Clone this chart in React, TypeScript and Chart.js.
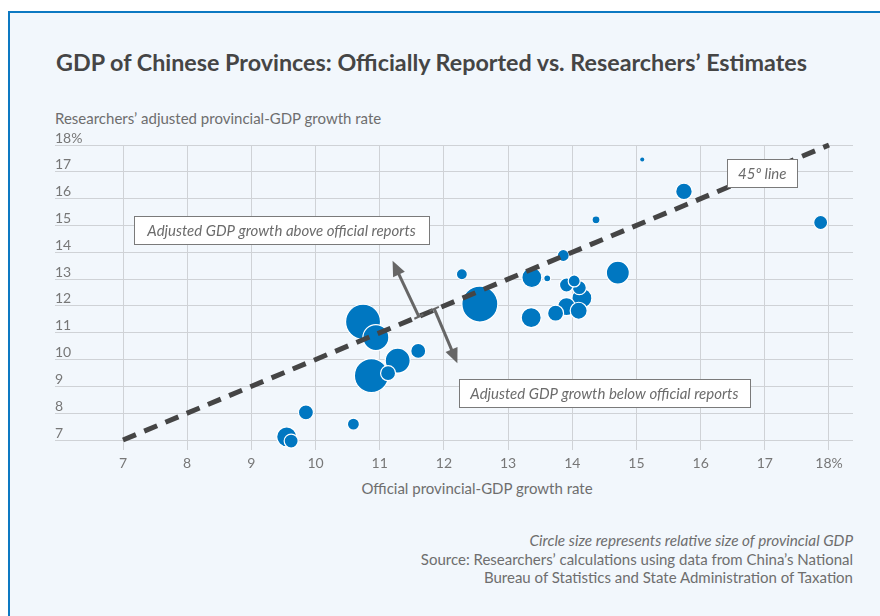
import React, { useEffect, useRef } from "react";
import { Chart, registerables } from "chart.js";

Chart.register(...registerables);

// Official (x) vs researchers' adjusted (y) provincial GDP growth, %; size = relative provincial GDP
const officialGrowth = [12.56, 10.74, 10.87, 14.71, 13.37, 13.36, 14.15, 11.28, 10.94, 9.55, 13.91, 15.74, 14.10, 13.74, 11.13, 14.11, 13.91, 9.85, 11.60, 14.03, 17.87, 9.62, 13.86, 10.59, 12.28, 14.37, 13.61, 15.09];
const adjustedGrowth = [12.07, 11.41, 9.40, 13.24, 13.06, 11.56, 12.29, 9.96, 10.82, 7.12, 11.97, 16.27, 11.82, 11.73, 9.49, 12.68, 12.78, 8.03, 10.32, 12.93, 15.11, 6.96, 13.88, 7.59, 13.18, 15.21, 13.03, 17.46];
const gdpSize = [18, 17.5, 17, 11.5, 10, 10, 10, 12.5, 13, 10, 9, 8.3, 8.5, 8, 7.5, 7, 7, 7.5, 7.5, 6, 7, 7, 6, 6, 5.5, 4, 3.5, 2];

const lineEnds = [7, 18];
const xTickValues = [7, 8, 9, 10, 11, 12, 13, 14, 15, 16, 17, 18];
const yTickValues = [7, 8, 9, 10, 11, 12, 13, 14, 15, 16, 17, 18];

const labelAbove = "Adjusted GDP growth above official reports";
const labelBelow = "Adjusted GDP growth below official reports";
const label45 = "45\u00BA line";

const FONT = "Lato, 'Noto Sans', sans-serif";
const BLUE = "#0077c1";

const annotationPlugin = {
  id: "annotations",
  afterDraw(chart: any) {
    const ctx = chart.ctx;
    const xs = chart.scales.x;
    const ys = chart.scales.y;
    const px = (v: number) => xs.getPixelForValue(v);
    const py = (v: number) => ys.getPixelForValue(v);

    const box = (text: string, cx: number, cy: number, w: number) => {
      const x = px(cx), y = py(cy);
      const h = 28;
      ctx.save();
      ctx.fillStyle = "#ffffff";
      ctx.strokeStyle = "#7a7a7a";
      ctx.lineWidth = 1;
      ctx.fillRect(Math.round(x - w / 2) + 0.5, Math.round(y - h / 2) + 0.5, w, h);
      ctx.strokeRect(Math.round(x - w / 2) + 0.5, Math.round(y - h / 2) + 0.5, w, h);
      ctx.fillStyle = "#6b6b6b";
      ctx.font = "italic 15px " + FONT;
      ctx.textAlign = "center";
      ctx.textBaseline = "middle";
      ctx.fillText(text, x, y + 1);
      ctx.restore();
    };

    const arrow = (x1v: number, y1v: number, x2v: number, y2v: number) => {
      const x1 = px(x1v), y1 = py(y1v), x2 = px(x2v), y2 = py(y2v);
      const ang = Math.atan2(y2 - y1, x2 - x1);
      const headLen = 15, headW = 6.5;
      ctx.save();
      ctx.strokeStyle = "#666666";
      ctx.fillStyle = "#666666";
      ctx.lineWidth = 3;
      ctx.beginPath();
      ctx.moveTo(x1, y1);
      ctx.lineTo(x2 - Math.cos(ang) * (headLen - 2), y2 - Math.sin(ang) * (headLen - 2));
      ctx.stroke();
      const nx = -Math.sin(ang), ny = Math.cos(ang);
      ctx.lineWidth = 2;
      ctx.beginPath();
      ctx.moveTo(x1 + nx * 5, y1 + ny * 5);
      ctx.lineTo(x1 - nx * 5, y1 - ny * 5);
      ctx.stroke();
      const bx = x2 - Math.cos(ang) * headLen, by = y2 - Math.sin(ang) * headLen;
      ctx.beginPath();
      ctx.moveTo(x2, y2);
      ctx.lineTo(bx + nx * headW, by + ny * headW);
      ctx.lineTo(bx - nx * headW, by - ny * headW);
      ctx.closePath();
      ctx.fill();
      ctx.restore();
    };

    arrow(11.61, 11.6, 11.2, 13.68);
    arrow(11.85, 11.89, 12.21, 9.86);
    box(labelAbove, 9.47, 14.84, 295);
    box(labelBelow, 14.5, 8.75, 291);
    box(label45, 16.96, 16.96, 70);
  },
};

function App() {
  const ref = useRef<HTMLCanvasElement | null>(null);

  useEffect(() => {
    if (!ref.current) return;
    const bubbles = officialGrowth.map((x, i) => ({ x, y: adjustedGrowth[i], r: gdpSize[i] }));
    const chart = new Chart(ref.current, {
      type: "bubble",
      data: {
        datasets: [
          {
            type: "line",
            data: lineEnds.map((v) => ({ x: v, y: v })),
            borderColor: "#454545",
            borderWidth: 5,
            borderDash: [14, 9],
            pointRadius: 0,
            fill: false,
            clip: false,
          } as any,
          {
            type: "bubble",
            data: bubbles,
            backgroundColor: BLUE,
            borderColor: "#ffffff",
            borderWidth: (c: any) => (c.raw && c.raw.r < 3 ? 0 : 1.2),
            clip: false,
          } as any,
        ],
      },
      options: {
        responsive: false,
        animation: false,
        layout: { padding: { left: 55, right: 27, top: 145, bottom: 136 } },
        plugins: { legend: { display: false }, tooltip: { enabled: false } },
        scales: {
          x: {
            type: "linear",
            min: 7 - 68 / 64.18,
            max: 18 + 24 / 64.18,
            afterBuildTicks: (s: any) => {
              s.ticks = xTickValues.map((v) => ({ value: v }));
            },
            afterFit: (s: any) => {
              s.height = 40;
            },
            grid: { color: "#cfd2d6", lineWidth: 1, tickLength: 10, tickColor: "#cfd2d6", drawTicks: true },
            border: { display: false },
            ticks: {
              color: "#777777",
              font: { family: FONT, size: 14 },
              padding: 5,
              callback: (v: any) => (v === 18 ? "18%" : String(v)),
            },
          },
          y: {
            type: "linear",
            min: 7,
            max: 18,
            afterBuildTicks: (s: any) => {
              s.ticks = yTickValues.map((v) => ({ value: v }));
            },
            afterFit: (s: any) => {
              s.width = 0;
            },
            grid: { color: "#cfd2d6", lineWidth: 1, drawTicks: false },
            border: { display: false },
            ticks: {
              mirror: true,
              padding: 0,
              labelOffset: -7,
              color: "#777777",
              font: { family: FONT, size: 14 },
              callback: (v: any) => (v === 18 ? "18%" : String(v)),
            },
          },
        },
      },
      plugins: [annotationPlugin],
    });
    return () => chart.destroy();
  }, []);

  const txt: React.CSSProperties = { position: "absolute", fontFamily: FONT, color: "#6e6e6e", whiteSpace: "nowrap" };

  return (
    <div style={{ position: "fixed", left: 0, top: 0, width: 880, height: 616, overflow: "hidden", background: "#ffffff" }}>
      <div
        style={{
          position: "absolute",
          left: 8,
          top: 11,
          width: 900,
          height: 700,
          background: "#f2f7fc",
          borderTop: "2px solid #0d79c2",
          borderLeft: "2px solid #0d79c2",
        }}
      />
      <div style={{ ...txt, left: 56, top: 48, fontSize: 23.3, fontWeight: 700, color: "#454545", lineHeight: "28px" }}>
        GDP of Chinese Provinces: Officially Reported vs. Researchers’ Estimates
      </div>
      <div style={{ ...txt, left: 55, top: 108, fontSize: 15, lineHeight: "20px" }}>
        Researchers’ adjusted provincial-GDP growth rate
      </div>
      <div style={{ ...txt, left: 477, top: 478, fontSize: 15, lineHeight: "20px", transform: "translateX(-50%)" }}>
        Official provincial-GDP growth rate
      </div>
      <div style={{ ...txt, right: 27, top: 531, fontSize: 15, lineHeight: "18.5px", textAlign: "right" }}>
        <div style={{ fontStyle: "italic", fontSize: 15.3 }}>Circle size represents relative size of provincial GDP</div>
        <div>Source: Researchers’ calculations using data from China’s National</div>
        <div>Bureau of Statistics and State Administration of Taxation</div>
      </div>
      <canvas ref={ref} width={880} height={616} style={{ position: "absolute", left: 0, top: 0, display: "block" }} />
    </div>
  );
}

export default App;
